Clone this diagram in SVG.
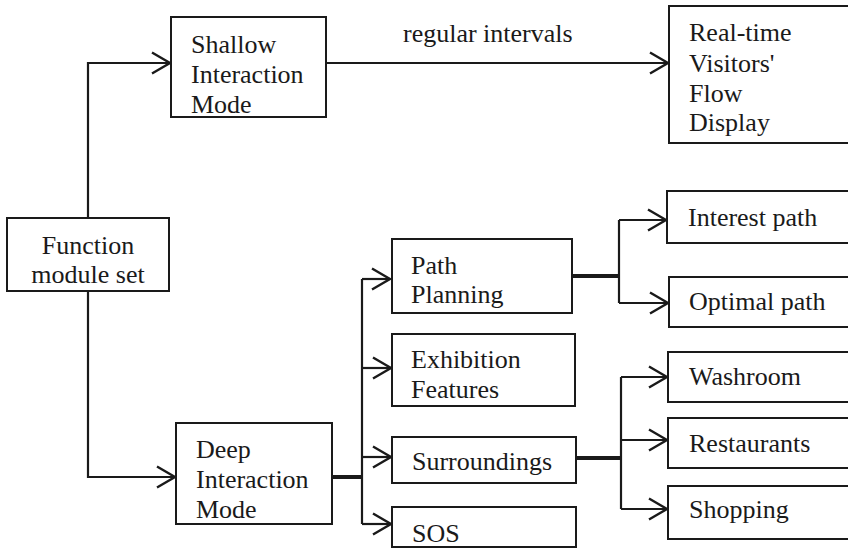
<svg xmlns="http://www.w3.org/2000/svg" width="848" height="549" viewBox="0 0 848 549">
<style>
.box{fill:#fff;stroke:#1a1a1a;stroke-width:2}
.t{font-family:'Liberation Serif','DejaVu Serif','Times New Roman',Times,serif;font-size:26px;fill:#1a1a1a}
.c{text-anchor:middle}
.ln{fill:none;stroke:#1a1a1a;stroke-width:2.2}
.thick{fill:none;stroke:#1a1a1a;stroke-width:4}
</style>
<defs>
<marker id="arr" markerUnits="userSpaceOnUse" viewBox="-21 -13 23 26" markerWidth="23" markerHeight="26" refX="0" refY="0" orient="auto" overflow="visible">
<path d="M-18,-10.5 L0,0 L-18,10.5" fill="none" stroke="#1a1a1a" stroke-width="2.4"/>
</marker>
</defs>
<rect width="848" height="549" fill="#fff"/>
<g id="connectors">
<path class="ln" d="M88,218 V63 H170" marker-end="url(#arr)"/>
<path class="ln" d="M88,291 V477 H175" marker-end="url(#arr)"/>
<path class="ln" d="M326,63 H668" marker-end="url(#arr)"/>
<text class="t" x="403" y="42" font-family="Liberation Serif">regular intervals</text>
<path class="thick" d="M332,477 H362"/>
<path class="ln" d="M362,279 V524"/>
<path class="ln" d="M362,279 H390" marker-end="url(#arr)"/>
<path class="ln" d="M362,368 H391" marker-end="url(#arr)"/>
<path class="ln" d="M362,457 H391" marker-end="url(#arr)"/>
<path class="ln" d="M362,524 H391" marker-end="url(#arr)"/>
<path class="thick" d="M572,276 H619"/>
<path class="ln" d="M619,220 V303"/>
<path class="ln" d="M619,220 H666" marker-end="url(#arr)"/>
<path class="ln" d="M619,303 H668" marker-end="url(#arr)"/>
<path class="thick" d="M576,458 H621"/>
<path class="ln" d="M621,377 V509"/>
<path class="ln" d="M621,377 H667" marker-end="url(#arr)"/>
<path class="ln" d="M621,440 H667" marker-end="url(#arr)"/>
<path class="ln" d="M621,509 H667" marker-end="url(#arr)"/>
</g>
<g id="function">
<rect class="box" x="7" y="218" width="162" height="73"/>
<text class="t c" x="88" y="254">Function</text>
<text class="t c" x="88" y="283">module set</text>
</g>
<g id="shallow">
<rect class="box" x="171" y="17" width="155" height="100"/>
<text class="t" x="191" y="53">Shallow</text>
<text class="t" x="191" y="83">Interaction</text>
<text class="t" x="191" y="113">Mode</text>
</g>
<g id="realtime">
<rect class="box" x="669" y="6" width="190" height="137"/>
<text class="t" x="689" y="41">Real-time</text>
<text class="t" x="689" y="72">Visitors'</text>
<text class="t" x="689" y="102">Flow</text>
<text class="t" x="689" y="131">Display</text>
</g>
<g id="deep">
<rect class="box" x="176" y="423" width="156" height="101"/>
<text class="t" x="196" y="458">Deep</text>
<text class="t" x="196" y="488">Interaction</text>
<text class="t" x="196" y="518">Mode</text>
</g>
<g id="pathplanning">
<rect class="box" x="392" y="239" width="180" height="74"/>
<text class="t" x="411" y="274">Path</text>
<text class="t" x="411" y="303">Planning</text>
</g>
<g id="exhibition">
<rect class="box" x="392" y="334" width="183" height="72"/>
<text class="t" x="411" y="368">Exhibition</text>
<text class="t" x="411" y="398">Features</text>
</g>
<g id="surroundings">
<rect class="box" x="392" y="437" width="184" height="46"/>
<text class="t" x="412" y="470">Surroundings</text>
</g>
<g id="sos">
<rect class="box" x="392" y="507" width="184" height="40"/>
<text class="t" x="412" y="542">SOS</text>
</g>
<g id="interest">
<rect class="box" x="667" y="191" width="192" height="52"/>
<text class="t" x="688" y="226">Interest path</text>
</g>
<g id="optimal">
<rect class="box" x="669" y="277" width="190" height="50"/>
<text class="t" x="689" y="310">Optimal path</text>
</g>
<g id="washroom">
<rect class="box" x="668" y="352" width="191" height="50"/>
<text class="t" x="689" y="385">Washroom</text>
</g>
<g id="restaurants">
<rect class="box" x="668" y="418" width="191" height="50"/>
<text class="t" x="689" y="452">Restaurants</text>
</g>
<g id="shopping">
<rect class="box" x="668" y="486" width="191" height="53"/>
<text class="t" x="689" y="518">Shopping</text>
</g>
</svg>
